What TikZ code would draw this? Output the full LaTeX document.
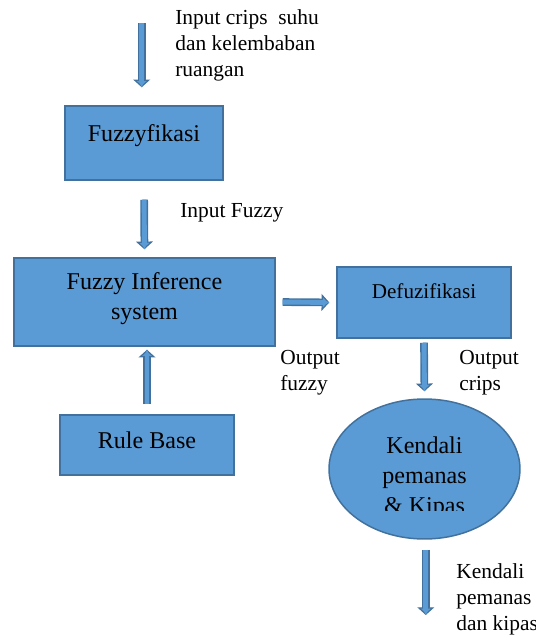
\documentclass[tikz,border=0pt]{standalone}
\usepackage{fontspec}
\setmainfont{Liberation Serif}
\usetikzlibrary{shapes.geometric,arrows.meta,calc}
\definecolor{boxfill}{HTML}{5B9BD5}
\definecolor{boxedge}{HTML}{41719C}
\tikzset{
  procbox/.style={draw=boxedge, line width=0.85pt, fill=boxfill, align=center, inner sep=0pt, font=\fontsize{13.7}{16.8}\selectfont},
  flow/.style={line width=2.8pt, draw=boxfill, -{Triangle[length=3.2pt,width=2.8pt,line width=0pt,fill=boxfill,color=boxfill]},
    preaction={draw=boxedge, line width=4.4pt, -{Triangle[length=4.4pt,width=9.6pt,line width=0.7pt,fill=boxfill,color=boxedge]}}},
  note/.style={anchor=base west, align=left, inner sep=0pt, font=\fontsize{12.2}{14.6}\selectfont}
}

\begin{document}
\begin{tikzpicture}[x=0.02cm, y=-0.02cm]
        \useasboundingbox (0,0) rectangle (536,636);
        % coordinates
        \coordinate (crisp) at (141.7,23);
        \coordinate (out) at (425.8,615);

        % blocks
        \node[procbox, minimum width=3.16cm, minimum height=1.48cm, text height=0.4cm, text depth=0.46cm] (fuzzyf) at (144,143) {Fuzzyfikasi};
        \node[procbox, minimum width=5.22cm, minimum height=1.76cm, text height=1.0cm, text depth=0.3cm] (fis) at (144.5,302) {Fuzzy Inference\\system};
        \node[procbox, minimum width=3.48cm, minimum height=1.2cm, text height=0.4cm, text depth=0.28cm] (rule) at (147,445) {Rule Base};
        \node[procbox, minimum width=3.48cm, minimum height=1.42cm, text height=0.36cm, text depth=0.52cm, font=\fontsize{12}{14}\selectfont] (defuz) at (424,302.5) {Defuzifikasi};
        \node[procbox, ellipse, minimum width=3.82cm, minimum height=2.8cm] (kendali) at (424.5,469) {};
        \begin{scope}
          \clip (329,399) rectangle (520,510.5);
          \node[procbox, draw=none, fill=none, anchor=base] (kendalitext) at (424.5,513) {Kendali\\pemanas\\\& Kipas};
        \end{scope}

        % arrows
        \draw[flow, shorten >=0.36cm] (crisp) -- (crisp |- fuzzyf.north);
        \draw[flow, shorten <=0.38cm, shorten >=0.16cm] (fuzzyf.south) -- (fis.north);
        \draw[flow, shorten <=0.2cm, shorten >=0.06cm] (rule.north) -- (rule.north |- fis.south);
        \draw[flow, shorten <=0.14cm, shorten >=0.14cm] (fis.east) -- (defuz.west);
        \draw[flow, shorten <=0.08cm, shorten >=0.14cm] (defuz.south) -- (kendali.north);
        \draw[flow, shorten <=0.2cm] (out |- kendali.south) -- (out);

        % Text
        \node[note] (incrisp) at (175,76) {Input crips\ \ suhu\\dan kelembaban\\ruangan};
        \node[note] (infuzzy) at (180,217) {Input Fuzzy};
        \node[note] (outfuzzy) at (280,390) {Output\\fuzzy};
        \node[note] (outcrisp) at (459,390) {Output\\crips};
        \node[note] (outkendali) at (456,630) {Kendali\\pemanas\\dan kipas};
\end{tikzpicture}
\end{document}
